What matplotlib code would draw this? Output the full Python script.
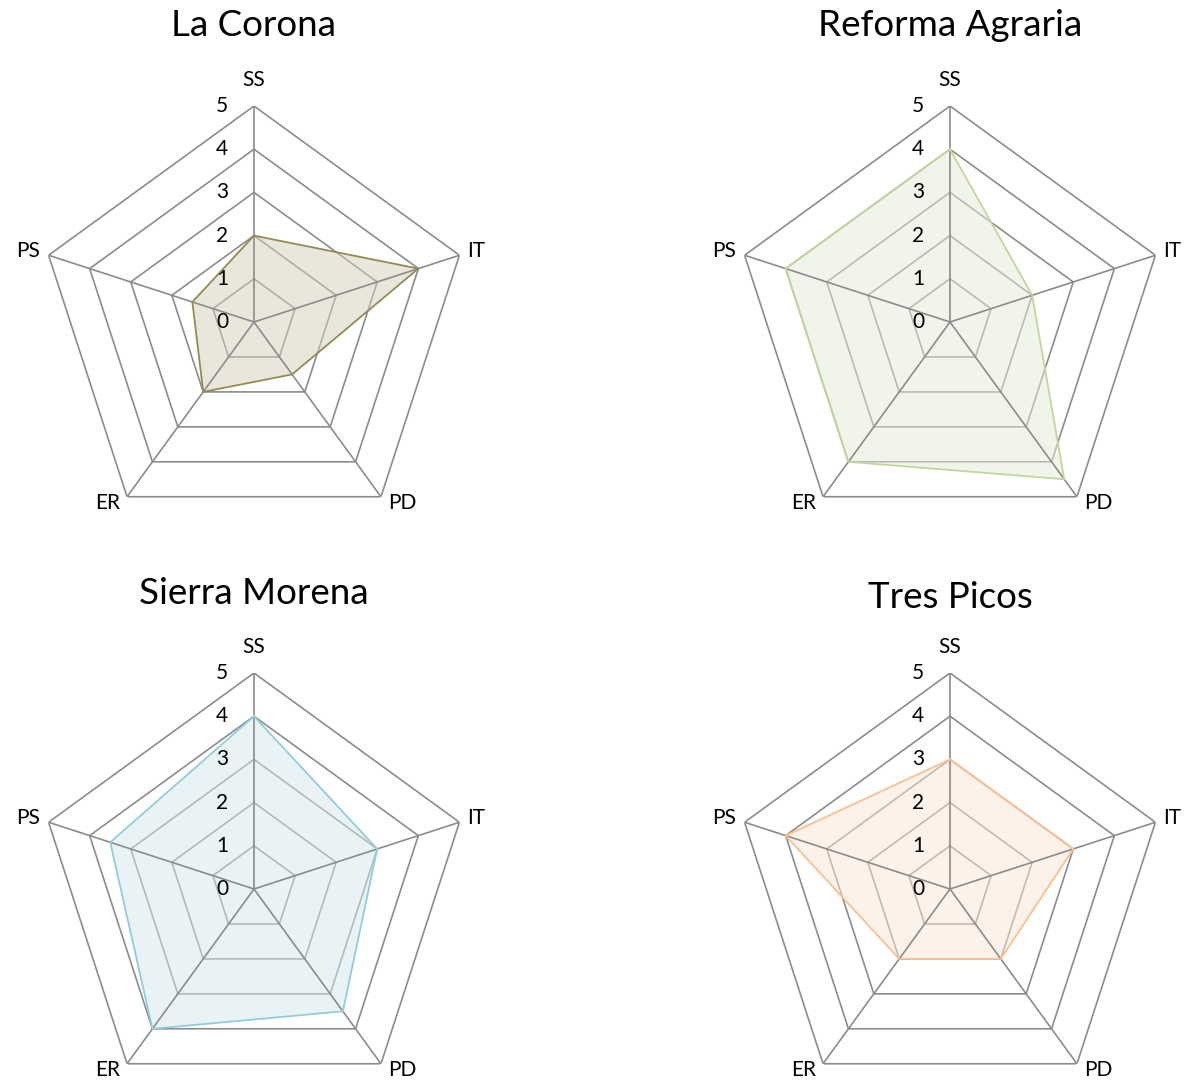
import numpy as np
import matplotlib.pyplot as plt
from matplotlib.transforms import offset_copy

categorias = ["SS", "IT", "PD", "ER", "PS"]
niveles = [0, 1, 2, 3, 4, 5]

titulos = ["La Corona", "Reforma Agraria", "Sierra Morena", "Tres Picos"]
la_corona = [2, 4, 1.5, 2, 1.5]
reforma_agraria = [4, 2, 4.5, 4, 4]
sierra_morena = [4, 3, 3.5, 4, 3.5]
tres_picos = [3, 3, 2, 2, 4]
valores = [la_corona, reforma_agraria, sierra_morena, tres_picos]

colores_linea = ["#948A54", "#C3D69B", "#92CDDC", "#FAC090"]
colores_relleno = ["#D5CFBB", "#E5EBD7", "#D5E7ED", "#FBE7D5"]

# centros (pixeles) de cada grafico
centros = [(254, 322), (950, 322), (254, 889), (950, 889)]
titulo_y = [25, 25, 594, 597]

# desplazamiento (dots) y alineacion de cada etiqueta de categoria
desp = [(0, 26, 'center'), (8, 4, 'left'), (7, -6, 'left'),
        (-7, -6, 'right'), (-9, 4, 'right')]

W, H = 1187, 1086
R = 216

plt.rcParams['font.family'] = ['Lato', 'DejaVu Sans']
fig = plt.figure(figsize=(W / 100, H / 100), dpi=100)

n = len(categorias)
angulos = np.linspace(0, 2 * np.pi, n, endpoint=False)
ang_cerrado = np.append(angulos, angulos[0])
gris = "#8C8C8C"

for i in range(4):
    cx, cy = centros[i]
    ax = fig.add_axes([(cx - R) / W, 1 - (cy + R) / H, 2 * R / W, 2 * R / H],
                      projection='polar')
    ax.set_theta_offset(np.pi / 2)
    ax.set_theta_direction(-1)
    ax.set_ylim(0, 5)
    ax.grid(False)
    ax.set_xticks([])
    ax.set_yticks([])
    ax.spines['polar'].set_visible(False)
    ax.patch.set_visible(False)

    # anillos
    for nv in niveles[1:]:
        ax.plot(ang_cerrado, [nv] * (n + 1), color=gris, lw=1.2, zorder=1)
    # serie
    v = valores[i] + valores[i][:1]
    ax.fill(ang_cerrado, v, color=colores_relleno[i], alpha=0.5, lw=0, zorder=2)
    # radios
    for a in angulos:
        ax.plot([a, a], [0, 5], color=gris, lw=1.2, zorder=3)
    ax.plot(ang_cerrado, v, color=colores_linea[i], lw=1.3, zorder=4)

    # etiquetas de niveles
    tr = offset_copy(ax.transData, fig=fig, x=-32, y=0, units='dots')
    for nv in niveles:
        ax.text(0, nv, str(nv), transform=tr, ha='center', va='center',
                fontsize=15, color='black')

    # etiquetas de categorias
    for a, c, (dx, dy, ha) in zip(angulos, categorias, desp):
        trc = offset_copy(ax.transData, fig=fig, x=dx, y=dy, units='dots')
        ax.text(a, 5, c, transform=trc, ha=ha, va='center', fontsize=15,
                color='black')

    fig.text(cx / W, 1 - titulo_y[i] / H, titulos[i], ha='center', va='center',
             fontsize=26.5, color='black')

fig.savefig("out.png", dpi=100)
